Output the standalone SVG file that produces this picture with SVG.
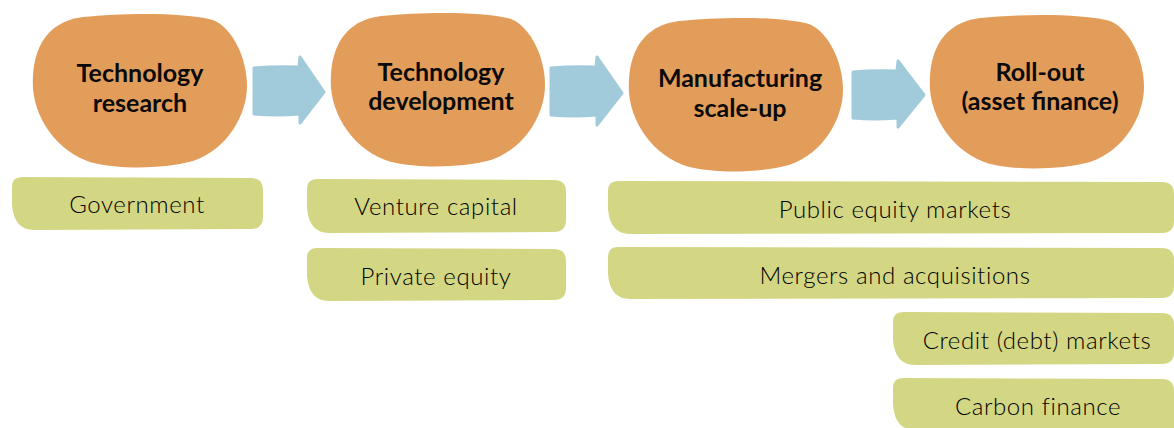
<svg xmlns="http://www.w3.org/2000/svg" width="1174" height="428" viewBox="0 0 1174 428">
<style>
.blob{fill:#E39D5A}
.arrow{fill:#A1CBDA;stroke:#A1CBDA;stroke-width:3;stroke-linejoin:round}
.pill{fill:#D3D683}
.bt{font-family:Lato,"Liberation Sans",sans-serif;font-weight:bold;font-size:25px;fill:#0a0a0a;text-anchor:middle}
.pt{font-family:Lato,"Liberation Sans",sans-serif;font-weight:300;font-size:24px;fill:#000;text-anchor:middle;letter-spacing:0.6px}
</style>
<defs>
<path id="blobShape" d="M 0,75 C -2,40 10,8 50,3 C 90,-1 150,-2 180,6 C 200,14 214,45 214,72 C 214,100 195,135 160,147 C 130,155 90,155 65,150 C 30,143 3,110 0,75 Z"/>
</defs>
<g id="connectors">
<path class="arrow" d="M 254,68 Q 275,66 299,67 L 300,57 L 324,92 L 300,123 L 300,114 Q 276,116 254,114 Z"/>
<path class="arrow" d="M 551,68 Q 572,66 596,67 L 597,57 L 622,93 L 597,125 L 597,115 Q 573,117 551,115 Z"/>
<path class="arrow" d="M 853,72 Q 874,70 897,71 L 898,61 L 924,95 L 898,127 L 898,118 Q 875,120 853,118 Z"/>
</g>
<g id="node-tech-research">
<use href="#blobShape" class="blob" transform="translate(33,14)"/>
<text class="bt" x="140" y="82">Technology</text>
<text class="bt" x="140" y="112">research</text>
</g>
<g id="node-tech-development">
<use href="#blobShape" class="blob" transform="translate(331,13)"/>
<text class="bt" x="441" y="81">Technology</text>
<text class="bt" x="441" y="110">development</text>
</g>
<g id="node-manufacturing">
<use href="#blobShape" class="blob" transform="translate(629,18)"/>
<text class="bt" x="740" y="87">Manufacturing</text>
<text class="bt" x="740" y="117">scale-up</text>
</g>
<g id="node-rollout">
<use href="#blobShape" class="blob" transform="translate(930,15)"/>
<text class="bt" x="1040" y="81">Roll-out</text>
<text class="bt" x="1040" y="110">(asset finance)</text>
</g>
<g id="node-government">
<path class="pill" d="M 22,177 L 251,178 Q 263,178 263,190 L 263,217 Q 263,229 251,229 L 34,230 Q 14,230 12,205 L 12,187 Q 12,177 22,177 Z"/>
<text class="pt" x="137" y="213">Government</text>
</g>
<g id="node-venture">
<path class="pill" d="M 317,179 L 554,180 Q 566,180 566,192 L 566,220 Q 566,232 554,232 L 329,233 Q 309,233 307,208 L 307,189 Q 307,179 317,179 Z"/>
<text class="pt" x="436" y="215">Venture capital</text>
</g>
<g id="node-private">
<path class="pill" d="M 317,248 L 554,249 Q 566,249 566,261 L 566,288 Q 566,300 554,300 L 329,301 Q 309,301 307,276 L 307,258 Q 307,248 317,248 Z"/>
<text class="pt" x="436" y="285">Private equity</text>
</g>
<g id="node-public">
<path class="pill" d="M 618,181 L 1162,182 Q 1174,182 1174,194 L 1174,221 Q 1174,233 1162,233 L 630,234 Q 610,234 608,209 L 608,191 Q 608,181 618,181 Z"/>
<text class="pt" x="895" y="218">Public equity markets</text>
</g>
<g id="node-mergers">
<path class="pill" d="M 618,247 L 1162,248 Q 1174,248 1174,260 L 1174,286 Q 1174,298 1162,298 L 630,299 Q 610,299 608,274 L 608,257 Q 608,247 618,247 Z"/>
<text class="pt" x="895" y="284">Mergers and acquisitions</text>
</g>
<g id="node-credit">
<path class="pill" d="M 903,312 L 1162,313 Q 1174,313 1174,325 L 1174,352 Q 1174,364 1162,364 L 915,365 Q 895,365 893,340 L 893,322 Q 893,312 903,312 Z"/>
<text class="pt" x="1037" y="349">Credit (debt) markets</text>
</g>
<g id="node-carbon">
<path class="pill" d="M 903,378 L 1162,379 Q 1174,379 1174,391 L 1174,430 L 915,430 Q 895,430 893,405 L 893,388 Q 893,378 903,378 Z"/>
<text class="pt" x="1038" y="415">Carbon finance</text>
</g>
</svg>
